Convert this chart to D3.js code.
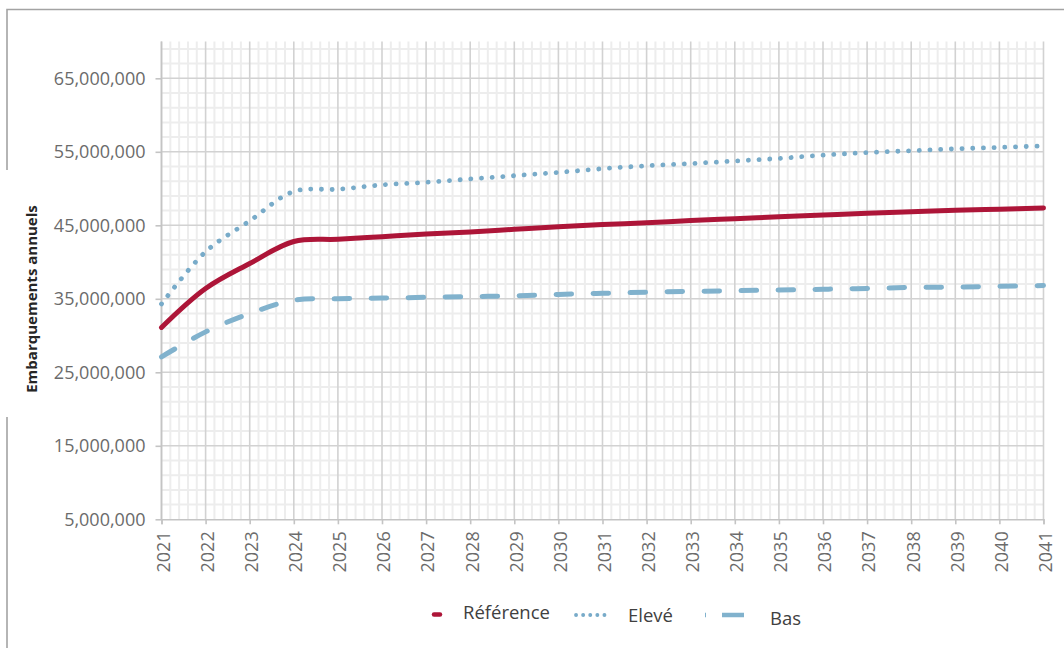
<!DOCTYPE html>
<html>
<head>
<meta charset="utf-8">
<script src="https://cdn.jsdelivr.net/npm/d3@7"></script>
<style>
  html, body { margin: 0; padding: 0; background: #fff; }
  svg { display: block; font-family: "Open Sans", "Noto Sans", sans-serif; }
</style>
</head>
<body>
<svg id="chart" width="1064" height="648"></svg>
<script>
// Annual boardings projection, 2021–2041, three scenarios
const years = [2021, 2022, 2023, 2024, 2025, 2026, 2027, 2028, 2029, 2030,
               2031, 2032, 2033, 2034, 2035, 2036, 2037, 2038, 2039, 2040, 2041];
const reference = [31.1, 36.4, 39.8, 42.8, 43.1, 43.45, 43.8, 44.1, 44.45, 44.8,
                   45.1, 45.35, 45.65, 45.9, 46.15, 46.4, 46.65, 46.85, 47.05, 47.2, 47.35].map(v => v * 1e6);
const eleve = [34.3, 41.4, 45.6, 49.6, 49.9, 50.5, 50.85, 51.3, 51.75, 52.2,
               52.7, 53.1, 53.4, 53.75, 54.1, 54.55, 54.9, 55.15, 55.4, 55.6, 55.8].map(v => v * 1e6);
const bas = [27.1, 30.5, 33.0, 34.8, 35.0, 35.1, 35.2, 35.3, 35.4, 35.6,
             35.75, 35.9, 36.0, 36.1, 36.2, 36.3, 36.4, 36.55, 36.6, 36.7, 36.8].map(v => v * 1e6);
const yTicks = [5e6, 15e6, 25e6, 35e6, 45e6, 55e6, 65e6];
const seriesNames = ["Référence", "Elevé", "Bas"];
const axisTitle = "Embarquements annuels";

const svg = d3.select("#chart");

const x = d3.scaleLinear().domain([2021, 2041]).range([161.5, 1043.5]);
const y = d3.scaleLinear().domain([5e6, 65e6]).range([519.3, 78.3]);
const yTop = y(70e6);

// Outer frame (left edge interrupted around the axis title)
svg.append("path")
  .attr("d", "M7,648 V417 M7,170 V9.5 H1064")
  .attr("fill", "none").attr("stroke", "#a3a3a3").attr("stroke-width", 1.6);

const grid = svg.append("g");

// Minor grid: every 1/5 year and every 2,000,000
const minorX = d3.range(0, 101).map(i => 2021 + i * 0.2).filter((v, i) => i % 5 !== 0);
const minorY = d3.range(0, 33).map(i => 5e6 + i * 2e6).filter(v => (v - 5e6) % 10e6 !== 0 && v < 70e6);

grid.selectAll(".mx").data(minorX).join("line")
  .attr("x1", d => x(d)).attr("x2", d => x(d))
  .attr("y1", yTop).attr("y2", y(5e6))
  .attr("stroke", "#ededed").attr("stroke-width", 2);
grid.selectAll(".my").data(minorY).join("line")
  .attr("x1", x(2021)).attr("x2", x(2041))
  .attr("y1", d => y(d)).attr("y2", d => y(d))
  .attr("stroke", "#ededed").attr("stroke-width", 2);

// Major grid
grid.selectAll(".Mx").data(years).join("line")
  .attr("x1", d => x(d)).attr("x2", d => x(d))
  .attr("y1", yTop).attr("y2", y(5e6))
  .attr("stroke", "#d2d2d2").attr("stroke-width", 1.6);
grid.selectAll(".My").data(yTicks.slice(1)).join("line")
  .attr("x1", x(2021)).attr("x2", x(2041))
  .attr("y1", d => y(d)).attr("y2", d => y(d))
  .attr("stroke", "#d2d2d2").attr("stroke-width", 1.6);

// Axes
const fmt = d3.format(",");
const yAxis = svg.append("g").attr("transform", `translate(${x(2021)},0)`)
  .call(d3.axisLeft(y).tickValues(yTicks).tickFormat(fmt).tickSize(6).tickPadding(10));
yAxis.select(".domain").attr("d", `M0,${yTop}V${y(5e6)}`);
yAxis.selectAll(".tick text").attr("font-size", 18).attr("fill", "#6b6b6b")
  .attr("font-family", "'Open Sans', sans-serif");

const xAxis = svg.append("g").attr("transform", `translate(0,${y(5e6)})`)
  .call(d3.axisBottom(x).tickValues(years).tickFormat(d3.format("d")).tickSize(5));
xAxis.selectAll(".tick text")
  .attr("font-size", 18).attr("fill", "#6b6b6b")
  .attr("font-family", "'Open Sans', sans-serif")
  .attr("text-anchor", "end")
  .attr("transform", "rotate(-90)")
  .attr("x", -12).attr("y", 1.5).attr("dy", "0.35em");

[yAxis, xAxis].forEach(a => {
  a.selectAll(".domain").attr("stroke", "#c4c4c4").attr("stroke-width", 1.6);
  a.selectAll(".tick line").attr("stroke", "#c4c4c4").attr("stroke-width", 1.6);
});

// Axis title
svg.append("text")
  .attr("transform", "translate(31,299) rotate(-90)")
  .attr("text-anchor", "middle").attr("dominant-baseline", "central")
  .attr("font-size", 15).attr("font-weight", "bold").attr("fill", "#262626")
  .text(axisTitle);

// Series lines
const line = d3.line()
  .x((d, i) => x(years[i]))
  .y(d => y(d))
  .curve(d3.curveCatmullRom.alpha(0.5));

const styles = [
  { data: reference, color: "#ad1538", width: 5, dash: null, cap: "round" },
  { data: eleve, color: "#78abc9", width: 4.8, dash: "0.1 10.6", cap: "round" },
  { data: bas, color: "#81b2cd", width: 5, dash: "15.5 21.5", cap: "round" }
];

svg.append("g").selectAll("path").data(styles).join("path")
  .attr("d", s => line(s.data))
  .attr("fill", "none")
  .attr("stroke", s => s.color)
  .attr("stroke-width", s => s.width)
  .attr("stroke-linecap", s => s.cap)
  .attr("stroke-linejoin", "round")
  .attr("stroke-dasharray", s => s.dash);

// Legend
const legend = svg.append("g");
const legendItems = [
  { name: seriesNames[0], x1: 434, x2: 440, ly: 614.5, tx: 463, ty: 619, style: styles[0], dash: null, cap: "round", w: 4.5 },
  { name: seriesNames[1], x1: 576, x2: 606, ly: 615, tx: 628, ty: 622, style: styles[1], dash: "0.1 7", cap: "round", w: 3.8 },
  { name: seriesNames[2], x1: 705, x2: 744, ly: 615, tx: 770, ty: 625, style: styles[2], dash: "1 16 22 40", cap: "butt", w: 4.6 }
];
legendItems.forEach(it => {
  legend.append("line")
    .attr("x1", it.x1).attr("x2", it.x2).attr("y1", it.ly).attr("y2", it.ly)
    .attr("stroke", it.style.color).attr("stroke-width", it.w)
    .attr("stroke-linecap", it.cap)
    .attr("stroke-dasharray", it.dash);
  legend.append("text")
    .attr("x", it.tx).attr("y", it.ty)
    .attr("font-size", 18.5).attr("fill", "#404040")
    .text(it.name);
});
</script>
</body>
</html>
